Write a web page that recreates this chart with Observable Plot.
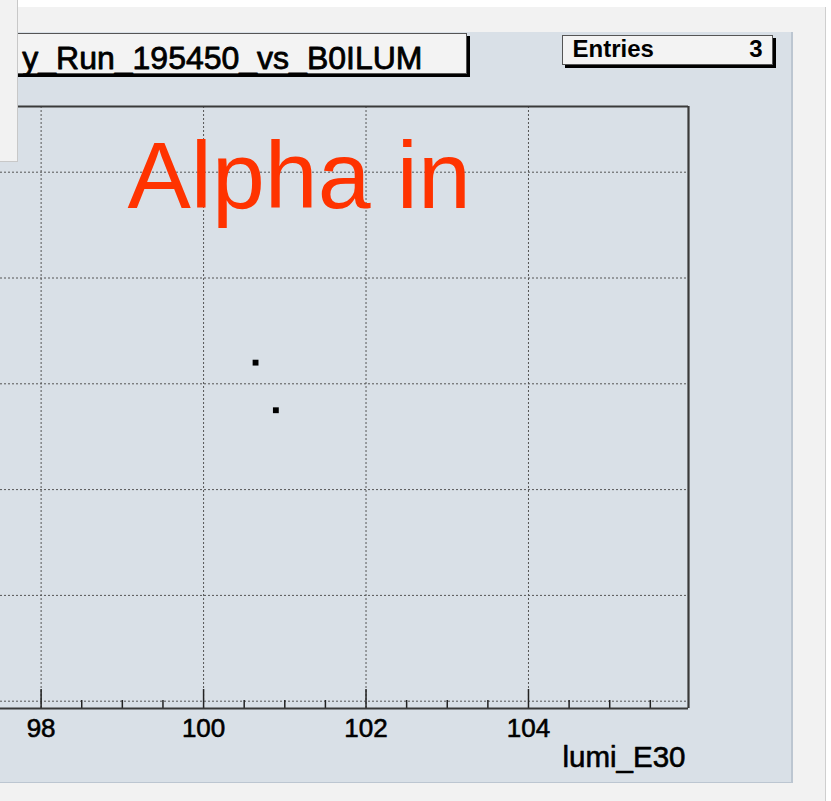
<!DOCTYPE html>
<html><head><meta charset="utf-8">
<script src="https://cdn.jsdelivr.net/npm/d3@7"></script>
<script src="https://cdn.jsdelivr.net/npm/@observablehq/plot@0.6"></script>
<style>
html,body{margin:0;padding:0;background:#fff;}
#root{position:relative;width:831px;height:801px;overflow:hidden;background:#fff;font-family:"Liberation Sans",Arial,sans-serif;}
#win{position:absolute;left:0;top:7px;width:825px;height:794px;background:#f2f2f2;border-right:1px solid #cfcfcf;}
#cv{position:absolute;left:0;top:32px;width:791px;height:750px;background:#d9e0e7;border-right:2px solid #bcc6d1;border-bottom:1px solid #bcc6d1;}
.box{position:absolute;background:#f3f3f3;border:1px solid #555;box-shadow:3px 3px 0 #000;}
#tbox{left:-10px;top:33px;width:475px;height:39px;}
#sbox{left:562px;top:35px;width:209px;height:28px;}
#chart{position:absolute;left:0;top:0;}
#side{position:absolute;left:0;top:0;width:17px;height:161px;background:#f2f2f2;border-right:1px solid #c8c8c8;border-bottom:1px solid #c8c8c8;}
</style></head>
<body><div id="root"><div id="win"></div><div id="cv"></div><div class="box" id="tbox"></div><div class="box" id="sbox"></div><div id="chart"></div><div id="side"></div></div>
<script>
const titleText = "y_Run_195450_vs_B0ILUM";
const statsLabel = "Entries";
const statsValue = "3";
const annotation = "Alpha in";
const xLabel = "lumi_E30";
const xDomain = [97.5, 105.97];
const yDomain = [0.89862, 1.01242];
const xMajorTicks = [98, 100, 102, 104];
const xMinorTicks = [98.5, 99, 99.5, 100.5, 101, 101.5, 102.5, 103, 103.5, 104.5, 105, 105.5];
const yGridTicks = [0.90, 0.92, 0.94, 0.96, 0.98, 1.00];
const lumi = [100.64, 100.89];
const alpha = [0.964, 0.955];

const points = lumi.map((x, i) => ({x, y: alpha[i]}));
const W = 831, H = 801, mT = 106, mB = 93, mL = 0, mR = 143;
const innerH = H - mT - mB;
const grid = {stroke: "#555", strokeOpacity: 1, strokeDasharray: "2,2", strokeWidth: 1};
const frameLine = {stroke: "#3a3a3a", strokeWidth: 2.2};
const heavy = {stroke: "#000", strokeWidth: 0.6, fill: "#000"};
const chart = Plot.plot({
  width: W, height: H, marginTop: mT, marginBottom: mB, marginLeft: mL, marginRight: mR,
  style: {background: "transparent", fontFamily: "Liberation Sans, Arial, sans-serif", color: "#000", overflow: "visible"},
  x: {domain: xDomain, label: null, axis: null},
  y: {domain: yDomain, axis: null},
  marks: [
    Plot.gridX(xMajorTicks, grid),
    Plot.gridY(yGridTicks, grid),
    Plot.tickX(xMinorTicks, {insetTop: innerH - 8, stroke: "#222", strokeWidth: 1.5}),
    Plot.tickX(xMajorTicks, {insetTop: innerH - 19, stroke: "#222", strokeWidth: 1.5}),
    Plot.ruleY([yDomain[1]], frameLine),
    Plot.ruleY([yDomain[0]], frameLine),
    Plot.ruleX([xDomain[1]], frameLine),
    Plot.text(xMajorTicks, {x: d => d, text: d => String(d), frameAnchor: "bottom", dy: 10, lineAnchor: "top", textAnchor: "middle", fontSize: 26, ...heavy}),
    Plot.text([xLabel], {text: d => d, frameAnchor: "bottom-right", dx: -3, dy: 58, textAnchor: "end", lineAnchor: "bottom", fontSize: 29.5, ...heavy}),
    Plot.text([annotation], {text: d => d, frameAnchor: "top-left", dx: 127, dy: 101, textAnchor: "start", lineAnchor: "bottom", fontSize: 95, fill: "#ff3300"}),
    Plot.text([titleText], {text: d => d, frameAnchor: "top-left", dx: 422, dy: -38, textAnchor: "end", lineAnchor: "bottom", fontSize: 32, ...heavy, strokeWidth: 0.8}),
    Plot.text([statsLabel], {text: d => d, frameAnchor: "top-left", dx: 572, dy: -50, textAnchor: "start", lineAnchor: "bottom", fontSize: 24, fontWeight: "bold"}),
    Plot.text([statsValue], {text: d => d, frameAnchor: "top-left", dx: 762, dy: -50, textAnchor: "end", lineAnchor: "bottom", fontSize: 24, fontWeight: "bold"}),
    Plot.dot(points, {x: "x", y: "y", symbol: "square", r: 3.3, fill: "#000", stroke: "none"})
  ]
});
document.getElementById("chart").appendChild(chart);
</script>
</body></html>
